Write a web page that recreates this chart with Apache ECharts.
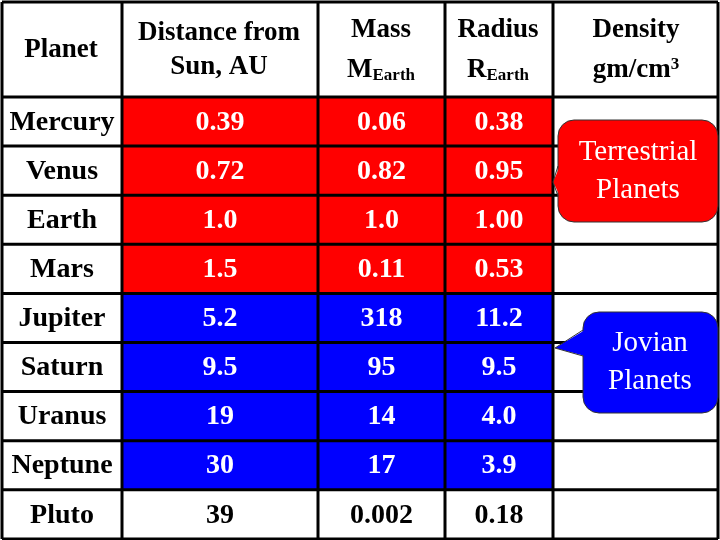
<!DOCTYPE html>
<html><head><meta charset="utf-8">
<script src="https://cdn.jsdelivr.net/npm/echarts@6/dist/echarts.min.js"></script>
<style>html,body{margin:0;padding:0;background:#fff}#c{width:720px;height:540px}</style>
</head><body><div id="c"></div>
<script>
const planets = ['Mercury','Venus','Earth','Mars','Jupiter','Saturn','Uranus','Neptune','Pluto'];
const distance = ['0.39','0.72','1.0','1.5','5.2','9.5','19','30','39'];
const mass = ['0.06','0.82','1.0','0.11','318','95','14','17','0.002'];
const radius = ['0.38','0.95','1.00','0.53','11.2','9.5','4.0','3.9','0.18'];
const groups = ['T','T','T','T','J','J','J','J','N'];
const calloutTerrestrial = ['Terrestrial','Planets'];
const calloutJovian = ['Jovian','Planets'];

const colX = [2,122,318,445,553,718];
const rowTop = 2, headerBottom = 97, rowH = 49.1;
const fillCol = {T:'#ff0000', J:'#0000ff', N:'#ffffff'};
const font = '"Liberation Serif","DejaVu Serif",serif';
const els = [];
const rowY = i => headerBottom + i*rowH;

planets.forEach((p,i)=>{
  const y0 = rowY(i);
  const g = groups[i];
  if (g !== 'N') els.push({type:'rect', shape:{x:colX[1],y:y0,width:colX[4]-colX[1],height:rowH}, style:{fill:fillCol[g]}});
  const cy = y0 + rowH/2 + 1;
  const tc = g==='N' ? '#000' : '#fff';
  els.push({type:'text', x:(colX[0]+colX[1])/2, y:cy, style:{text:p, font:'bold 28px '+font, fill:'#000', align:'center', verticalAlign:'middle'}});
  [distance, mass, radius].forEach((arr,k)=>{
    els.push({type:'text', x:(colX[k+1]+colX[k+2])/2, y:cy, style:{text:arr[i], font:'bold 28px '+font, fill:tc, align:'center', verticalAlign:'middle'}});
  });
});
const ls = {stroke:'#000', lineWidth:3};
for (let i=0;i<=planets.length;i++){
  const y = rowY(i);
  els.push({type:'line', shape:{x1:colX[0],y1:y,x2:colX[5],y2:y}, style:ls});
}
els.push({type:'line', shape:{x1:colX[0],y1:rowTop,x2:colX[5],y2:rowTop}, style:ls});
colX.forEach(x=>els.push({type:'line', shape:{x1:x,y1:rowTop,x2:x,y2:rowY(planets.length)}, style:ls}));

const hf = 'bold 27px '+font;
const hdr = (x,y,text,rich)=>els.push({type:'text', x, y, style:{text, font:hf, fill:'#000', align:'center', verticalAlign:'middle', rich}});
hdr(61,50,'Planet');
hdr(219,33,'Distance from'); hdr(219,67,'Sun, AU');
const rich = {b:{font:'bold 27px '+font, fill:'#000'}, s:{font:'bold 17px '+font, fill:'#000', padding:[12,0,0,0]}, p:{font:'bold 17px '+font, fill:'#000', padding:[0,0,10,0]}};
hdr(381,30,'Mass'); hdr(381,70,'{b|M}{s|Earth}',rich);
hdr(498,30,'Radius'); hdr(498,70,'{b|R}{s|Earth}',rich);
hdr(636,30,'Density'); hdr(636,70,'{b|gm/cm}{p|3}',rich);

function callout(x0,y0,x1,y1,r,p1,tip,p2,color,lines,cx){
  els.push({type:'rect', shape:{x:x0,y:y0,width:x1-x0,height:y1-y0,r}, style:{fill:color, stroke:'#333', lineWidth:1}});
  els.push({type:'polygon', shape:{points:[[x0+2,p1],tip,[x0+2,p2]]}, style:{fill:color}});
  els.push({type:'polyline', shape:{points:[[x0,p1],tip,[x0,p2]]}, style:{stroke:'#333', lineWidth:1, fill:null}});
  lines.forEach((t,k)=>els.push({type:'text', x:cx, y:(y0+y1)/2 + (k-0.5)*38, style:{text:t, font:'29px '+font, fill:'#fff', align:'center', verticalAlign:'middle'}}));
}
callout(558,120,718,222,16,166,[553,182],196,'#ff0000',calloutTerrestrial,638);
callout(583,312,718,413,16,330,[555,348],356,'#0000ff',calloutJovian,650);

const chart = echarts.init(document.getElementById('c'));
chart.setOption({backgroundColor:'#fff', graphic:{elements:els}});
</script></body></html>
